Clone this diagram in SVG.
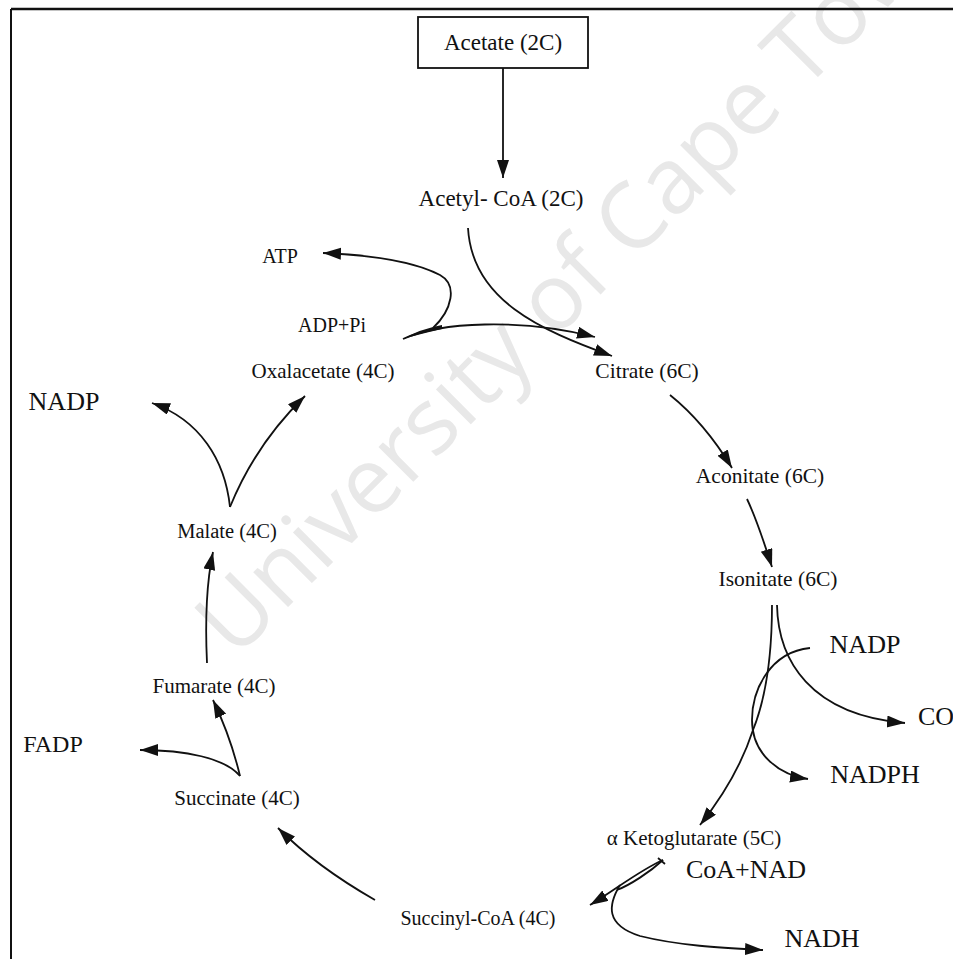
<svg xmlns="http://www.w3.org/2000/svg" width="953" height="959" viewBox="0 0 953 959">
<style>
  .lbl{font-family:"Liberation Serif","Times New Roman",serif;fill:#111;text-anchor:middle}
  .c{fill:none;stroke:#111;stroke-width:1.8;marker-end:url(#ah)}
  .p{fill:none;stroke:#111;stroke-width:1.8}
  .wm{font-family:"Open Sans","Liberation Sans",sans-serif;fill:#e8e8e8}
</style>
<defs>
  <marker id="ah" markerUnits="userSpaceOnUse" markerWidth="20" markerHeight="14" refX="18" refY="6" orient="auto">
    <path d="M0,0 L18,6 L0,12 z" fill="#111"/>
  </marker>
</defs>
<rect x="0" y="0" width="953" height="959" fill="#fff"/>
<text class="wm" x="235" y="660" font-size="92" transform="rotate(-45 235 660)">University of Cape Town</text>
<g id="frame">
  <line x1="11" y1="9" x2="953" y2="9" stroke="#111" stroke-width="2.5"/>
  <line x1="11" y1="9" x2="11" y2="959" stroke="#111" stroke-width="2"/>
</g>
<g id="acetate">
  <rect x="418" y="17" width="170" height="51" fill="#fff" stroke="#111" stroke-width="1.8"/>
  <text class="lbl" x="503" y="50" font-size="23">Acetate (2C)</text>
</g>
<g id="acetylcoa"><text class="lbl" x="501" y="206" font-size="23">Acetyl- CoA  (2C)</text></g>
<g id="atp"><text class="lbl" x="280" y="263" font-size="20">ATP</text></g>
<g id="adppi"><text class="lbl" x="332" y="332" font-size="20">ADP+Pi</text></g>
<g id="oxalacetate"><text class="lbl" x="323" y="378" font-size="21">Oxalacetate (4C)</text></g>
<g id="citrate"><text class="lbl" x="647" y="378" font-size="21.5">Citrate (6C)</text></g>
<g id="aconitate"><text class="lbl" x="760" y="483" font-size="21.5">Aconitate (6C)</text></g>
<g id="isonitate"><text class="lbl" x="778" y="586" font-size="21.5">Isonitate (6C)</text></g>
<g id="nadp-right"><text class="lbl" x="865" y="653" font-size="26">NADP</text></g>
<g id="co"><text class="lbl" x="918" y="725" font-size="26" text-anchor="start" style="text-anchor:start">CO</text></g>
<g id="nadph"><text class="lbl" x="875" y="783" font-size="26">NADPH</text></g>
<g id="aketoglutarate"><text class="lbl" x="694" y="845" font-size="21">α Ketoglutarate (5C)</text></g>
<g id="coanad"><text class="lbl" x="746" y="878" font-size="26">CoA+NAD</text></g>
<g id="nadh"><text class="lbl" x="822" y="947" font-size="26">NADH</text></g>
<g id="succinylcoa"><text class="lbl" x="478" y="925" font-size="20">Succinyl-CoA (4C)</text></g>
<g id="succinate"><text class="lbl" x="237" y="805" font-size="21">Succinate (4C)</text></g>
<g id="fadp"><text class="lbl" x="53" y="752" font-size="24">FADP</text></g>
<g id="fumarate"><text class="lbl" x="214" y="693" font-size="21">Fumarate (4C)</text></g>
<g id="malate"><text class="lbl" x="227" y="538" font-size="20.5">Malate (4C)</text></g>
<g id="nadp-left"><text class="lbl" x="64" y="410" font-size="26">NADP</text></g>
<g id="connectors">
  <line class="c" x1="503" y1="68" x2="503" y2="178"/>
  <path class="c" d="M468,228 C472,300 540,330 612,356"/>
  <path class="c" d="M403,339 C440,322 520,318 595,337"/>
  <path d="M403,339 Q420,329 442,325 L442,329 Q420,334 403,339 z" fill="#111"/>
  <path class="c" d="M433,328 C452,310 458,285 440,275 C415,262 370,255 323,253"/>
  <path class="c" d="M670,395 C695,415 715,440 732,468"/>
  <path class="c" d="M747,499 C757,520 765,545 772,567"/>
  <path class="c" d="M772,605 C772,660 765,700 753,730 C740,770 720,800 700,825"/>
  <path class="c" d="M777,605 C778,660 810,715 905,723"/>
  <path class="c" d="M810,648 C770,652 752,690 752,720 C752,755 780,775 808,779"/>
  <path class="c" d="M663,860 C640,870 615,890 590,905"/>
  <path class="p" d="M663,860 C650,872 630,885 617,890"/>
  <path class="p" d="M658,858 L665,864"/>
  <path class="c" d="M620,885 C608,905 605,925 640,936 C680,946 725,948 763,950"/>
  <path class="c" d="M375,900 C340,880 305,855 278,828"/>
  <path class="c" d="M240,776 C235,755 225,725 213,700"/>
  <path class="c" d="M240,776 C225,758 185,750 140,750"/>
  <path class="c" d="M207,663 C205,620 207,580 213,552"/>
  <path class="c" d="M230,507 C225,460 200,420 152,403"/>
  <path class="c" d="M230,507 C245,470 270,430 305,396"/>
</g>
</svg>
